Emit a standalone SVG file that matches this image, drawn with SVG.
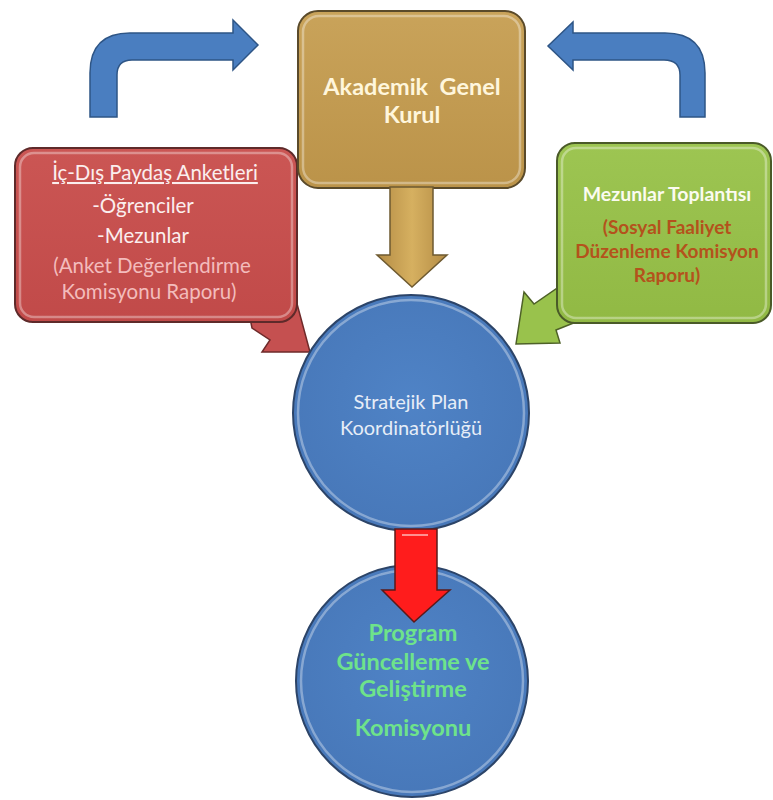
<svg xmlns="http://www.w3.org/2000/svg" width="773" height="800" viewBox="0 0 773 800">
  <style>
    .t { font-family: Lato, "Open Sans", "Liberation Sans", sans-serif; text-anchor: middle; }
    .b { font-weight: bold; }
    .gloss { fill: none; stroke: #ffffff; stroke-opacity: 0.35; stroke-width: 2.5; }
  </style>
  <defs>
    <linearGradient id="gGold" x1="0" y1="0" x2="0" y2="1">
      <stop offset="0" stop-color="#c9a35a"/>
      <stop offset="1" stop-color="#bb9349"/>
    </linearGradient>
    <linearGradient id="gRed" x1="0" y1="0" x2="0" y2="1">
      <stop offset="0" stop-color="#cb5654"/>
      <stop offset="1" stop-color="#c14a49"/>
    </linearGradient>
    <linearGradient id="gGreen" x1="0" y1="0" x2="0" y2="1">
      <stop offset="0" stop-color="#9dc552"/>
      <stop offset="1" stop-color="#91b944"/>
    </linearGradient>
    <radialGradient id="gBlue" cx="0.5" cy="0.45" r="0.6">
      <stop offset="0" stop-color="#4f83c6"/>
      <stop offset="1" stop-color="#4777b8"/>
    </radialGradient>
    <linearGradient id="gShaft" x1="0" y1="0" x2="1" y2="0">
      <stop offset="0" stop-color="#b48c45"/>
      <stop offset="0.5" stop-color="#d6b060"/>
      <stop offset="1" stop-color="#b48c45"/>
    </linearGradient>
  </defs>

  <!-- Stakeholder survey callout -->
  <g id="node-anketler">
    <polygon points="250,318 296,300 310,352 262,352 270,340 252,328" fill="#c55050" stroke="#6e2a2a" stroke-width="1.5"/>
    <rect x="15" y="148" width="282" height="174" rx="18" fill="url(#gRed)" stroke="#5e2a2a" stroke-width="2"/>
    <rect x="20" y="153" width="272" height="164" rx="14" class="gloss"/>
    <text class="t" x="155" y="180" font-size="20.5" fill="#fbeeee" text-decoration="underline">İç-Dış Paydaş Anketleri</text>
    <text class="t" x="143" y="213" font-size="20.5" fill="#fbeeee">-Öğrenciler</text>
    <text class="t" x="143" y="243" font-size="20.5" fill="#fbeeee">-Mezunlar</text>
    <text class="t" x="152" y="273" font-size="20.5" fill="#f3bcbc">(Anket Değerlendirme</text>
    <text class="t" x="149" y="299" font-size="20.5" fill="#f3bcbc">Komisyonu Raporu)</text>
  </g>

  <!-- Graduates meeting callout -->
  <g id="node-mezunlar">
    <polygon points="524,292 534,304 566,282 576,322 556,330 560,343 516,344" fill="#99c24c" stroke="#4e6128" stroke-width="1.5"/>
    <rect x="557" y="143" width="214" height="180" rx="18" fill="url(#gGreen)" stroke="#4a5a28" stroke-width="2"/>
    <rect x="562" y="148" width="204" height="170" rx="14" class="gloss"/>
    <text class="t b" x="667" y="201" font-size="19.5" fill="#fbfbf0">Mezunlar Toplantısı</text>
    <text class="t b" x="667" y="234" font-size="19" fill="#b4521c">(Sosyal Faaliyet</text>
    <text class="t b" x="667" y="258" font-size="19" fill="#b4521c">Düzenleme Komisyon</text>
    <text class="t b" x="667" y="282" font-size="19" fill="#b4521c">Raporu)</text>
  </g>

  <!-- General assembly -->
  <g id="node-kurul">
    <rect x="298" y="11" width="227" height="177" rx="20" fill="url(#gGold)" stroke="#5a4a2a" stroke-width="2"/>
    <rect x="303" y="16" width="217" height="167" rx="16" class="gloss"/>
    <text class="t b" x="412" y="95" font-size="23.5" fill="#fff6dc" xml:space="preserve">Akademik  Genel</text>
    <text class="t b" x="412" y="123" font-size="23.5" fill="#fff6dc">Kurul</text>
  </g>

  <!-- Strategic plan coordination -->
  <g id="node-stratejik">
    <circle cx="411" cy="413" r="118" fill="url(#gBlue)" stroke="#2c4468" stroke-width="2"/>
    <circle cx="411" cy="413" r="113" class="gloss"/>
    <text class="t" x="411" y="409" font-size="20" fill="#e6edf7">Stratejik Plan</text>
    <text class="t" x="411" y="435" font-size="20" fill="#e6edf7">Koordinatörlüğü</text>
  </g>

  <!-- Programme update commission -->
  <g id="node-program">
    <circle cx="412" cy="681" r="116" fill="url(#gBlue)" stroke="#2c4468" stroke-width="2"/>
    <circle cx="412" cy="681" r="111" class="gloss"/>
    <text class="t b" x="413" y="641" font-size="23.5" fill="#6ee38a">Program</text>
    <text class="t b" x="413" y="670" font-size="23.5" fill="#6ee38a">Güncelleme ve</text>
    <text class="t b" x="413" y="697" font-size="23.5" fill="#6ee38a">Geliştirme</text>
    <text class="t b" x="413" y="736" font-size="23.5" fill="#6ee38a">Komisyonu</text>
  </g>

  <!-- Connectors -->
  <g id="connectors">
    <path d="M90,117 L90,73 Q90,33 130,33 L233,33 L233,20 L258,45 L233,70 L233,60 L132,60 Q117,60 117,75 L117,117 Z" fill="#4a7ec0" stroke="#2e5585" stroke-width="1.5"/>
    <path d="M705,117 L705,73 Q705,33 665,33 L573,33 L573,22 L548,46 L573,70 L573,60 L664,60 Q680,60 680,75 L680,117 Z" fill="#4a7ec0" stroke="#2e5585" stroke-width="1.5"/>
    <path d="M390,187 L433,187 L433,255 L447,255 L412,287 L377,255 L390,255 Z" fill="url(#gShaft)" stroke="#6e5a30" stroke-width="1.5"/>
    <path d="M395,529 L437,529 L437,590 L450,590 L414,622 L382,590 L395,590 Z" fill="#ff1c1c" stroke="#5a1a1a" stroke-width="1.5"/>
    <line x1="402" y1="535" x2="428" y2="535" stroke="#ff9090" stroke-width="2"/>
  </g>
</svg>
